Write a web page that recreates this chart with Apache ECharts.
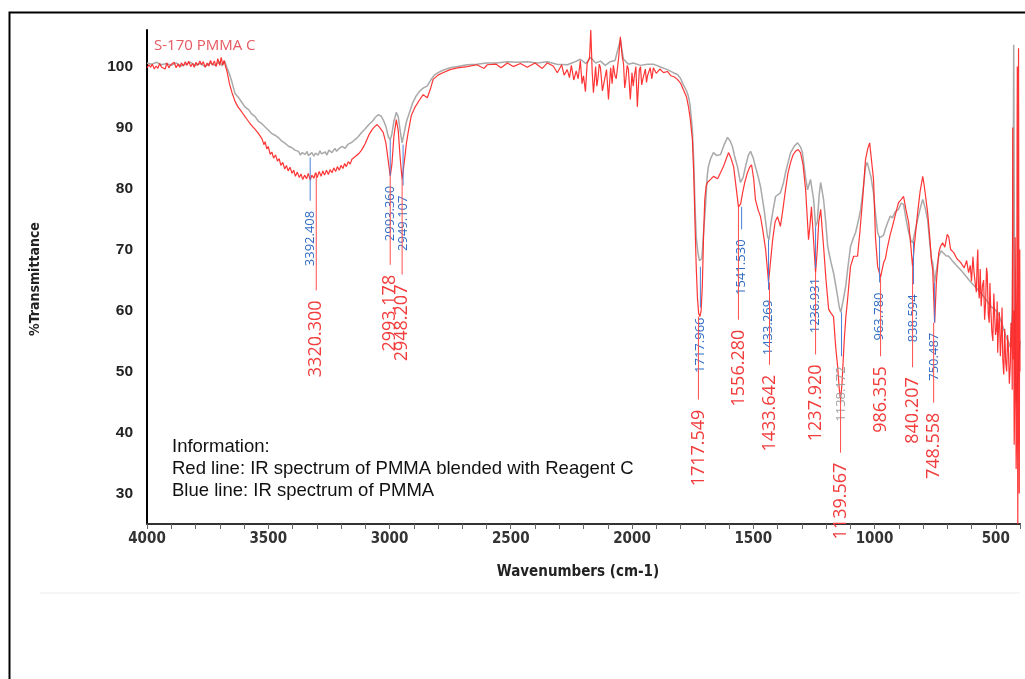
<!DOCTYPE html>
<html>
<head>
<meta charset="utf-8">
<title>S-170 PMMA C</title>
<script src="https://cdn.jsdelivr.net/npm/echarts@6/dist/echarts.min.js"></script>
<style>
  html, body { margin: 0; padding: 0; background: #fff; }
  #main { width: 1025px; height: 679px; }
</style>
</head>
<body>
<div id="main"></div>
<script>
// PMMA spectrum (drawn grey) : [wavenumber, %T]
var grayPts = [
  [4000,100.6],[3980,100.4],[3960,100.7],[3940,100.3],[3920,100.5],[3900,100.2],[3880,100.6],[3860,100.1],
  [3840,100.4],[3820,100.7],[3800,100.2],[3780,100.5],[3760,100.0],[3740,100.6],[3720,100.2],[3700,100.8],
  [3690,100.1],[3680,100.9],[3670,99.8],[3660,98.8],[3650,97.5],[3637,95.6],[3620,94.8],[3610,94.2],
  [3596,93.4],[3580,92.9],[3570,92.3],[3554,91.8],[3540,91.0],[3525,90.6],[3513,90.1],[3500,89.6],
  [3485,89.0],[3470,88.7],[3459,88.4],[3445,87.8],[3430,87.4],[3415,86.9],[3402,86.7],[3390,86.3],
  [3375,86.1],[3368,85.5],[3360,85.9],[3348,85.6],[3340,86.1],[3335,85.4],[3320,85.9],[3312,85.3],
  [3305,85.8],[3294,85.5],[3287,86.2],[3280,85.7],[3265,86.0],[3258,85.5],[3250,86.3],[3237,85.9],
  [3225,86.6],[3218,86.1],[3210,86.5],[3195,86.9],[3183,86.6],[3170,87.3],[3162,87.0],[3155,87.6],
  [3140,88.1],[3129,88.5],[3115,89.2],[3100,89.8],[3085,90.5],[3071,91.0],[3060,91.6],
  [3047,92.1],[3035,91.9],[3025,91.2],[3015,90.2],[3005,88.5],[2997,88.0],[2990,89.0],[2982,91.0],
  [2972,92.5],[2964,91.8],[2956,89.5],[2948,87.5],[2940,89.0],[2930,91.0],[2920,92.2],[2905,94.0],
  [2890,95.2],[2875,96.0],[2860,96.5],[2845,96.8],[2830,97.8],[2815,98.6],[2800,99.0],[2780,99.4],
  [2750,99.8],[2720,100.0],[2680,100.3],[2640,100.4],[2600,100.6],[2560,100.6],[2514,100.8],[2470,100.7],
  [2432,100.8],[2390,100.6],[2349,100.8],[2310,100.4],[2267,100.3],[2240,100.7],[2213,101.2],[2190,100.5],
  [2170,101.5],[2150,100.6],[2130,100.9],[2110,100.2],[2090,100.8],[2070,101.0],[2048,104.4],[2035,101.2],
  [2015,100.4],[1995,100.6],[1965,100.2],[1936,100.4],[1912,100.4],[1880,99.9],[1854,99.5],[1830,99.0],
  [1813,98.7],[1800,98.1],[1788,97.0],[1775,96.0],[1767,95.1],[1760,93.5],[1751,89.7],[1745,84.0],
  [1740,77.0],[1735,72.0],[1728,69.5],[1722,68.2],[1718,67.9],[1712,68.5],[1705,72.8],[1697,77.0],
  [1690,82.0],[1685,83.6],[1675,85.0],[1664,85.9],[1650,85.4],[1635,85.6],[1620,87.2],[1606,88.4],
  [1595,87.8],[1586,86.9],[1575,85.0],[1565,83.6],[1553,81.0],[1542,81.8],[1532,83.6],[1520,85.5],
  [1511,86.1],[1500,85.0],[1491,83.6],[1480,82.0],[1470,80.3],[1455,76.5],[1441,72.1],[1435,71.6],
  [1429,73.8],[1418,76.5],[1408,78.7],[1388,79.3],[1375,81.0],[1367,82.6],[1355,84.5],[1346,85.9],
  [1330,87.0],[1317,87.5],[1305,86.8],[1297,85.9],[1285,82.0],[1276,79.8],[1264,81.5],[1251,78.2],
  [1243,73.8],[1236,74.5],[1228,79.0],[1222,81.0],[1210,78.2],[1200,74.0],[1193,70.5],[1180,68.0],
  [1169,66.2],[1155,63.0],[1145,60.5],[1139,59.7],[1130,61.5],[1119,63.9],[1110,67.0],[1099,70.5],
  [1088,71.8],[1078,72.8],[1065,75.0],[1057,76.6],[1045,80.5],[1037,83.6],[1030,84.3],[1024,84.3],
  [1015,82.0],[1004,79.3],[995,75.5],[987,72.8],[980,72.0],[971,72.1],[962,72.4],[955,73.4],
  [946,74.4],[935,75.5],[926,75.2],[915,76.2],[901,76.6],[890,77.6],[880,77.4],[870,75.0],
  [859,72.8],[850,71.5],[843,71.1],[838,71.3],[830,73.5],[822,74.9],[810,77.0],[801,78.2],
  [792,77.0],[781,74.9],[772,71.0],[765,68.5],[760,67.9],[752,64.6],[745,66.5],[735,68.9],
  [725,69.8],[719,69.5],[705,69.0],[694,68.9],[680,68.2],[673,67.9],[660,67.3],[645,66.7],
  [630,66.0],[612,65.1],[595,64.3],[574,63.4],[560,62.8],[550,62.3],[535,61.5],[521,60.7],
  [505,60.2],[492,59.7],[480,58.5],[471,57.4],[460,56.0],[450,55.0],[440,54.0],[432,60.0],
  [428,80.0],[426,103.6],[423,70.0],[420,50.0],[415,45.0],[410,48.0],[405,52.0],[400,55.0]
];

// PMMA + Reagent C spectrum (red) : [wavenumber, %T]
var redPts = [
  [4000,99.8],[3992,100.3],[3985,99.9],[3978,100.4],[3970,99.6],[3962,100.1],[3955,99.7],[3948,100.5],
  [3940,99.9],[3932,100.2],[3925,99.6],[3918,100.6],[3910,99.8],[3902,100.3],[3895,100.0],[3888,100.7],
  [3880,99.8],[3872,100.4],[3865,99.9],[3858,100.6],[3850,100.1],[3842,100.8],[3835,100.2],[3828,100.9],
  [3820,100.0],[3812,100.5],[3805,99.9],[3798,100.7],[3790,100.2],[3782,100.9],[3775,100.3],[3768,100.8],
  [3760,99.9],[3752,100.6],[3745,100.1],[3738,101.0],[3730,100.2],[3722,100.9],[3715,100.0],[3708,101.3],
  [3700,100.2],[3694,101.5],[3688,100.3],[3682,101.0],[3676,100.0],[3670,99.2],
  [3660,97.2],[3650,95.8],[3637,94.3],[3625,93.4],[3610,92.6],[3596,91.8],[3585,91.2],[3570,90.4],
  [3554,89.7],[3540,89.0],[3525,88.1],[3518,87.2],[3513,87.7],[3506,86.5],[3500,86.9],[3492,85.6],
  [3485,86.0],[3478,85.0],[3470,85.5],[3462,84.5],[3455,84.9],[3448,83.8],[3440,84.3],[3432,83.2],
  [3425,83.8],[3418,82.9],[3410,83.5],[3402,82.5],[3395,83.0],[3388,82.0],[3380,82.7],[3372,81.8],
  [3365,82.4],[3358,81.5],[3350,82.2],[3342,81.6],[3335,82.5],[3327,81.4],[3320,82.2],[3312,81.7],
  [3305,82.6],[3298,81.8],[3290,82.8],[3282,82.0],[3275,82.9],[3268,82.2],[3260,83.0],[3252,82.3],
  [3245,83.1],[3237,82.6],[3230,83.4],[3222,82.8],[3215,83.6],[3207,83.0],[3200,83.8],[3192,83.3],
  [3185,84.1],[3178,83.6],[3170,84.4],[3162,84.0],[3155,84.8],[3148,84.5],[3140,85.3],[3132,85.0],
  [3125,85.8],[3115,86.3],[3100,87.4],[3085,88.8],[3071,89.7],[3060,90.2],[3051,90.5],[3040,90.0],
  [3026,89.2],[3015,87.5],[3005,84.5],[2997,82.0],[2990,84.0],[2982,88.5],[2972,91.3],[2964,89.5],
  [2956,85.0],[2948,81.5],[2940,84.0],[2930,87.5],[2923,89.2],[2910,92.0],[2894,93.4],[2875,94.6],
  [2861,95.4],[2844,94.9],[2830,96.5],[2820,97.9],[2800,98.6],[2780,99.0],[2750,99.5],[2720,99.8],
  [2680,100.0],[2640,100.3],[2610,99.7],[2597,100.3],[2560,100.4],[2540,99.8],[2514,100.6],[2490,100.0],
  [2460,100.5],[2432,99.9],[2400,100.6],[2370,99.7],[2349,100.6],[2325,100.1],[2308,99.0],[2290,100.3],
  [2280,98.6],[2267,99.5],[2258,98.2],[2250,100.2],[2240,97.8],[2230,99.3],[2222,98.0],[2213,101.0],
  [2206,97.2],[2200,98.5],[2192,95.9],[2185,100.5],[2175,101.5],[2170,106.0],[2164,99.0],[2159,95.7],
  [2150,100.0],[2145,96.8],[2140,98.2],[2135,100.4],[2130,99.8],[2122,96.0],[2115,97.5],[2105,99.5],
  [2097,94.6],[2088,99.8],[2082,97.2],[2077,100.2],[2070,98.5],[2065,98.0],[2055,101.5],[2048,104.9],
  [2040,101.5],[2035,100.5],[2030,96.5],[2025,98.0],[2020,100.2],[2015,99.6],[2007,94.6],[2000,99.0],
  [1995,96.8],[1990,98.5],[1984,100.0],[1978,93.4],[1970,99.4],[1965,100.0],[1960,97.0],[1955,98.0],
  [1945,99.6],[1940,97.4],[1936,98.5],[1925,99.8],[1918,98.0],[1912,99.8],[1900,98.9],[1885,99.6],
  [1870,99.0],[1854,99.2],[1840,98.5],[1825,98.3],[1813,97.9],[1800,97.3],[1788,96.2],[1775,95.0],
  [1767,93.4],[1760,91.5],[1751,88.0],[1745,82.0],[1740,74.0],[1735,67.0],[1730,62.0],[1725,59.5],
  [1720,59.0],[1715,60.0],[1710,64.0],[1705,72.0],[1700,78.2],[1694,80.5],[1689,81.0],[1676,81.5],
  [1664,82.0],[1647,81.6],[1635,82.6],[1623,83.6],[1612,84.8],[1602,85.9],[1592,85.0],[1581,83.6],
  [1570,80.0],[1561,77.0],[1552,77.5],[1544,79.3],[1535,81.0],[1524,82.6],[1515,83.5],[1507,83.9],
  [1498,81.5],[1491,78.2],[1480,76.5],[1470,75.4],[1460,73.0],[1449,70.0],[1440,66.0],[1437,64.6],
  [1430,67.5],[1420,71.6],[1410,74.5],[1400,75.4],[1388,73.8],[1378,76.5],[1367,79.8],[1357,82.5],
  [1346,84.3],[1336,85.5],[1326,86.1],[1315,86.4],[1305,85.9],[1295,84.0],[1284,79.8],[1272,71.6],
  [1266,74.0],[1260,77.0],[1252,72.0],[1243,66.2],[1236,70.0],[1230,74.5],[1222,76.6],[1215,73.0],
  [1210,70.5],[1200,65.0],[1189,60.2],[1178,59.5],[1169,59.0],[1160,54.0],[1152,50.8],[1145,47.0],
  [1140,45.4],[1134,48.0],[1125,55.0],[1118,59.0],[1111,61.8],[1099,67.2],[1086,68.9],[1078,68.6],
  [1070,68.9],[1060,73.0],[1049,78.2],[1037,84.8],[1028,86.5],[1020,87.5],[1012,84.5],[1004,81.5],
  [996,72.0],[987,67.2],[980,66.2],[975,65.5],[968,66.8],[962,67.9],[955,68.5],[946,70.5],
  [935,72.5],[926,73.8],[912,76.0],[901,77.7],[890,78.2],[880,78.7],[870,76.5],[859,74.4],
  [850,70.5],[843,67.2],[835,71.0],[822,76.1],[812,79.5],[801,82.0],[795,80.5],[781,76.1],
  [772,72.0],[765,68.0],[760,66.7],[752,58.0],[745,64.5],[735,69.5],[728,70.5],[719,71.1],
  [710,70.4],[700,72.5],[694,72.1],[686,70.0],[673,69.5],[660,68.5],[645,67.9],[630,67.0],
  [620,68.2],[612,66.2],[605,67.4],[600,64.8],[594,68.8],[590,66.5],[584,64.2],[580,63.0],
  [577,67.5],[574,70.0],[571,63.5],[568,62.0],[564,66.8],[560,60.7],[555,64.0],[550,65.0],
  [546,58.5],[542,61.0],[538,67.0],[535,66.0],[531,59.5],[527,58.0],[524,64.5],[521,60.7],
  [516,56.5],[512,55.0],[508,62.8],[505,63.0],[501,56.0],[497,57.0],[494,61.5],[492,53.1],
  [488,58.0],[485,59.7],[481,52.5],[478,55.0],[474,60.5],[471,52.0],[467,49.5],[463,57.0],
  [459,51.5],[455,50.0],[451,56.0],[448,54.0],[444,48.0],[440,51.0],[437,58.0],[434,56.0],
  [432,47.0],[430,90.0],[428,52.0],[426,60.0],[424,38.0],[422,45.0],[420,72.0],[418,60.0],
  [416,34.0],[414,40.0],[412,88.0],[411,100.0],[410,42.0],[409,25.0],[407,80.0],[406,103.0],
  [404,45.0],[403,30.0],[401,70.0],[400,50.0]
];

// peak picks of the PMMA curve: position, %T at the curve, %T where the tick ends
var blueWn     = [3327, 2997, 2944, 1718, 1548, 1437, 1243, 979, 839, 752];
var blueTop    = [85.1, 88.0, 87.2, 67.2, 77.0, 71.6, 73.8, 72.1, 71.3, 64.6];
var blueBottom = [78.0, 82.1, 80.5, 60.5, 73.3, 63.4, 67.0, 64.6, 64.3, 58.0];
var blueText   = ['3392.408','2993.360','2949.107','1717.966','1541.530','1433.269','1236.931','963.780','838.594','750.487'];

// the one pick printed in grey
var greyWn = [1136];
var greyTop = [59.7];
var greyBottom = [52.5];
var greyText = ['1138.172'];

// peak picks of the red curve
var redWn     = [3302, 2997, 2948, 1726, 1561, 1433, 1243, 1140, 975, 843, 756];
var redTop    = [82.6, 82.0, 81.5, 59.0, 77.0, 64.6, 66.2, 45.4, 65.5, 67.2, 58.0];
var redBottom = [63.3, 67.5, 65.9, 45.4, 58.5, 51.1, 52.8, 36.7, 52.5, 50.7, 44.9];
var redText   = ['3320.300','2993.178','2948.207','1717.549','1556.280','1433.642','1237.920','1139.567','986.355','840.207','748.558'];

var infoLines = [
  'Information:',
  'Red line: IR spectrum of PMMA blended with Reagent C',
  'Blue line: IR spectrum of PMMA'
];

var myChart = echarts.init(document.getElementById('main'));

function peakSeries(wn, top, bottom, text, lineColor, textColor, fontSize) {
  var data = [];
  for (var i = 0; i < wn.length; i++) {
    data.push([wn[i], top[i], bottom[i]]);
  }
  return {
    type: 'custom',
    z: 5,
    silent: true,
    data: data,
    renderItem: function (params, api) {
      var p1 = api.coord([api.value(0), api.value(1)]);
      var p2 = api.coord([api.value(0), api.value(2)]);
      return {
        type: 'group',
        children: [
          {
            type: 'line',
            shape: { x1: p1[0], y1: p1[1], x2: p2[0], y2: p2[1] },
            style: { stroke: lineColor, lineWidth: 1 }
          },
          {
            type: 'text',
            x: p2[0],
            y: p2[1] + 10,
            rotation: Math.PI / 2,
            style: {
              text: text[params.dataIndex],
              fill: textColor,
              fontSize: fontSize,
              fontFamily: '"Open Sans", "Noto Sans", sans-serif',
              align: 'right',
              verticalAlign: 'middle'
            }
          }
        ]
      };
    }
  };
}

var infoGraphics = [];
for (var k = 0; k < infoLines.length; k++) {
  infoGraphics.push({
    type: 'text',
    x: 172,
    y: 447 + k * 22,
    style: {
      text: infoLines[k],
      fill: '#111',
      fontSize: 18.5,
      fontFamily: '"Liberation Sans", Arial, sans-serif',
      verticalAlign: 'middle'
    }
  });
}

myChart.setOption({
  animation: false,
  backgroundColor: '#fff',
  grid: { left: 147, top: 30, right: 5, bottom: 155 },
  title: {
    text: 'S-170 PMMA C',
    left: 149,
    top: 33,
    textStyle: {
      color: '#e55a62',
      fontSize: 15,
      fontWeight: 'normal',
      fontFamily: '"Open Sans", "Noto Sans", sans-serif'
    }
  },
  xAxis: {
    type: 'value',
    inverse: true,
    min: 400,
    max: 4000,
    interval: 100,
    splitLine: { show: false },
    axisLine: { onZero: false, lineStyle: { color: '#333', width: 2 } },
    axisTick: { show: true, length: 5, lineStyle: { color: '#666' } },
    axisLabel: {
      margin: 8,
      color: '#333',
      fontSize: 15,
      fontWeight: 'bold',
      fontFamily: '"DejaVu Sans Condensed", "Liberation Sans Narrow", sans-serif',
      formatter: function (v) { return v % 500 === 0 ? v : ''; }
    }
  },
  yAxis: {
    type: 'value',
    min: 25,
    max: 106,
    interval: 5,
    splitLine: { show: false },
    axisLine: { show: true, onZero: false, lineStyle: { color: '#000', width: 2 } },
    axisTick: { show: false },
    axisLabel: {
      margin: 14,
      color: '#222',
      fontSize: 15.5,
      fontWeight: 'bold',
      fontFamily: '"Liberation Sans", Arial, sans-serif',
      formatter: function (v) { return v % 10 === 0 ? v : ''; }
    }
  },
  graphic: [
    {
      type: 'rect',
      silent: true,
      shape: { x: 9.5, y: 12.5, width: 1040, height: 700 },
      style: { fill: 'none', stroke: '#000', lineWidth: 2 }
    },
    {
      type: 'line',
      silent: true,
      shape: { x1: 40, y1: 593, x2: 1020, y2: 593 },
      style: { stroke: '#ececec', lineWidth: 1 }
    },
    {
      type: 'text',
      x: 35,
      y: 279,
      rotation: Math.PI / 2,
      style: {
        text: '%Transmittance',
        fill: '#222',
        fontSize: 14,
        fontWeight: 'bold',
        fontFamily: '"DejaVu Sans Condensed", "Liberation Sans Narrow", sans-serif',
        align: 'center',
        verticalAlign: 'middle'
      }
    },
    {
      type: 'text',
      x: 578,
      y: 572,
      style: {
        text: 'Wavenumbers (cm-1)',
        fill: '#222',
        fontSize: 15,
        fontWeight: 'bold',
        fontFamily: '"DejaVu Sans Condensed", "Liberation Sans Narrow", sans-serif',
        align: 'center',
        verticalAlign: 'middle'
      }
    }
  ].concat(infoGraphics),
  series: [
    {
      name: 'PMMA',
      type: 'line',
      data: grayPts,
      showSymbol: false,
      z: 2,
      lineStyle: { color: '#a9a9a9', width: 1.5 }
    },
    {
      name: 'PMMA + Reagent C',
      type: 'line',
      data: redPts,
      showSymbol: false,
      z: 3,
      lineStyle: { color: '#ff1f1f', width: 1.2, opacity: 0.9 }
    },
    peakSeries(blueWn, blueTop, blueBottom, blueText, '#4a80d8', '#2f6cc4', 13),
    peakSeries(greyWn, greyTop, greyBottom, greyText, '#4a80d8', '#a0a0a0', 13),
    peakSeries(redWn, redTop, redBottom, redText, '#ff4d4d', '#f23c3c', 18)
  ]
});
</script>
</body>
</html>
